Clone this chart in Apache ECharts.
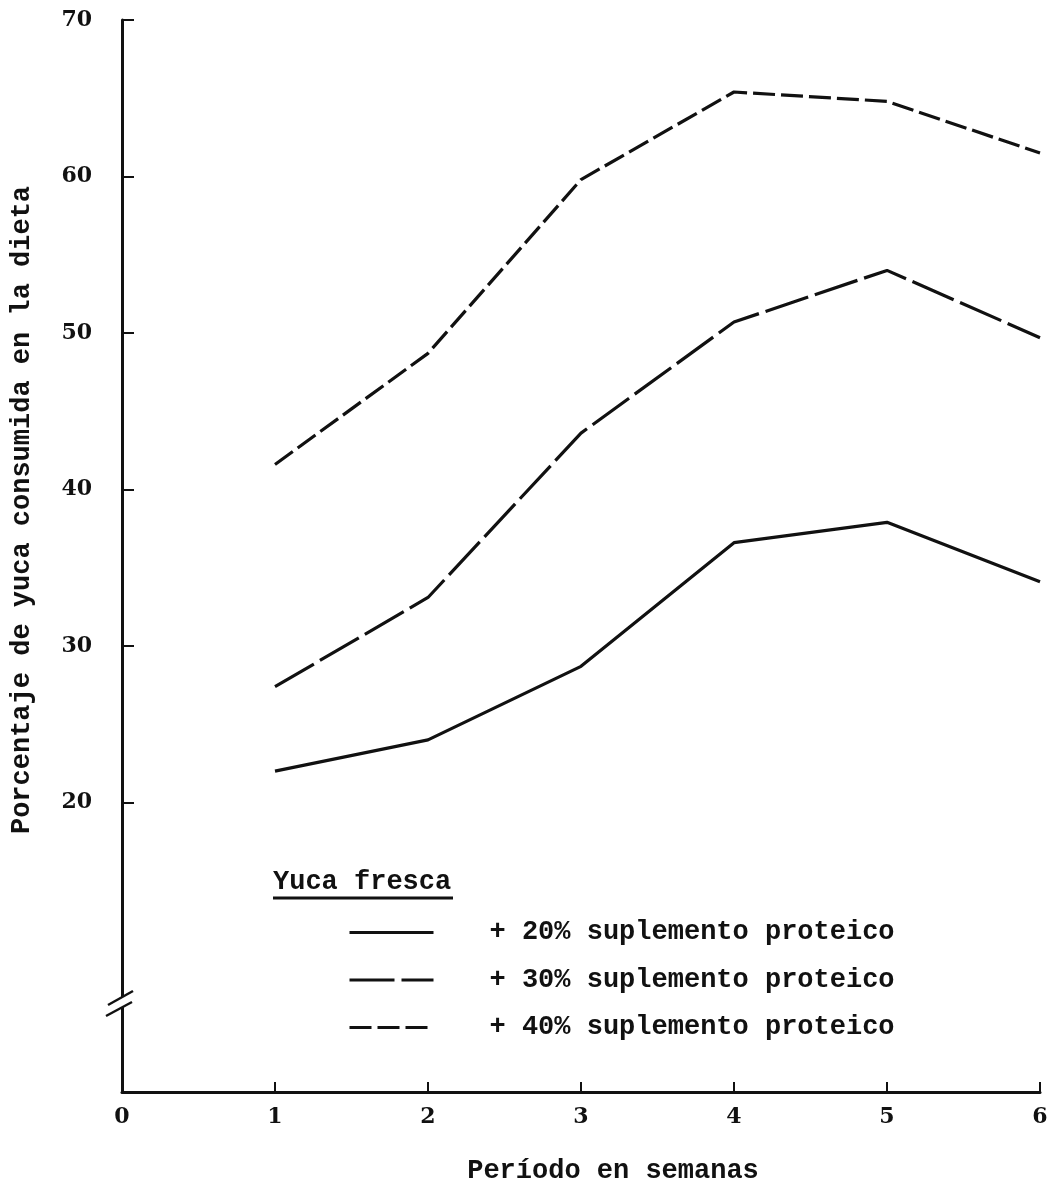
<!DOCTYPE html>
<html>
<head>
<meta charset="utf-8">
<script src="https://cdn.jsdelivr.net/npm/echarts@6/dist/echarts.min.js"></script>
<style>
html,body{margin:0;padding:0;background:#fff;}
#chart{width:1053px;height:1190px;}
</style>
</head>
<body>
<div id="chart"></div>
<script>
// ---- data ----
const weeks = [1, 2, 3, 4, 5, 6];
const xTicks = [0, 1, 2, 3, 4, 5, 6];
const yTicks = [20, 30, 40, 50, 60, 70];
const seriesNames = ['+ 20% suplemento proteico', '+ 30% suplemento proteico', '+ 40% suplemento proteico'];
const prot20 = [22.0, 24.0, 28.7, 36.6, 37.9, 34.1];
const prot30 = [27.4, 33.1, 43.6, 50.7, 54.0, 49.7];
const prot40 = [41.6, 48.7, 59.8, 65.4, 64.8, 61.5];
const legendTitle = 'Yuca fresca';
const xTitle = 'Período en semanas';
const yTitle = 'Porcentaje de yuca consumida en la dieta';

// ---- layout / style ----
const INK = '#111';
const MONO = '"Liberation Mono", "DejaVu Sans Mono", monospace';
const SERIF = '"DejaVu Serif", serif';
const yMin = 1.5;

const chart = echarts.init(document.getElementById('chart'), null, {renderer: 'canvas'});

function pairs(vals) { return weeks.map((w, i) => [w, vals[i]]); }

const dashes = ['solid', [45, 7], [22, 6]];
const allVals = [prot20, prot30, prot40];

const option = {
  backgroundColor: '#fff',
  animation: false,
  grid: {left: 122, right: 13, top: 20, bottom: 98, containLabel: false},
  xAxis: {
    type: 'value', min: 0, max: 6, interval: 1,
    axisLine: {show: true, lineStyle: {color: INK, width: 3}},
    axisTick: {show: true, inside: true, length: 10, lineStyle: {color: INK, width: 2}},
    axisLabel: {color: INK, fontFamily: SERIF, fontWeight: 'bold', fontSize: 22, margin: 14},
    splitLine: {show: false},
    name: xTitle, nameLocation: 'middle', nameGap: 66,
    nameTextStyle: {color: INK, fontFamily: MONO, fontWeight: 'bold', fontSize: 27, padding: [0, 0, 0, 64]}
  },
  yAxis: {
    type: 'value', min: yMin, max: 70,
    axisLine: {show: true, lineStyle: {color: INK, width: 3}},
    axisTick: {show: true, inside: true, length: 12, lineStyle: {color: INK, width: 2},
               customValues: yTicks},
    axisLabel: {color: INK, fontFamily: SERIF, fontWeight: 'bold', fontSize: 22, margin: 30,
                customValues: yTicks},
    splitLine: {show: false},
    name: yTitle, nameLocation: 'middle', nameGap: 86, nameRotate: 90,
    nameTextStyle: {color: INK, fontFamily: MONO, fontWeight: 'bold', fontSize: 27, padding: [0, 0, 0, 92]}
  },
  legend: {
    show: true,
    orient: 'vertical', left: 343, top: 914, itemWidth: 84, itemHeight: 27, itemGap: 20.5,
    data: seriesNames,
    itemStyle: {opacity: 0},
    lineStyle: {width: 3},
    textStyle: {color: INK, fontFamily: MONO, fontWeight: 'bold', fontSize: 27, padding: [0, 0, 0, 51]},
    selectedMode: false
  },
  series: seriesNames.map((name, i) => ({
    name: name, type: 'line', data: pairs(allVals[i]),
    symbol: 'none', smooth: false,
    lineStyle: {color: INK, width: 3.2, type: dashes[i]},
    itemStyle: {color: INK}
  })),
  graphic: [
    {type: 'text', left: 273, top: 869, z: 100,
     style: {text: legendTitle, fill: INK, font: 'bold 27px ' + MONO}},
    {type: 'line', z: 100, shape: {x1: 273, y1: 898, x2: 453, y2: 898},
     style: {stroke: INK, lineWidth: 3}},
    {type: 'rect', z: 100, shape: {x: 116, y: 997, width: 12, height: 10}, style: {fill: '#fff'}},
    {type: 'line', z: 101, shape: {x1: 108, y1: 1005, x2: 133, y2: 991}, style: {stroke: INK, lineWidth: 2.5}},
    {type: 'line', z: 101, shape: {x1: 106, y1: 1016, x2: 132, y2: 1002}, style: {stroke: INK, lineWidth: 2.5}}
  ]
};
chart.setOption(option);
</script>
</body>
</html>
